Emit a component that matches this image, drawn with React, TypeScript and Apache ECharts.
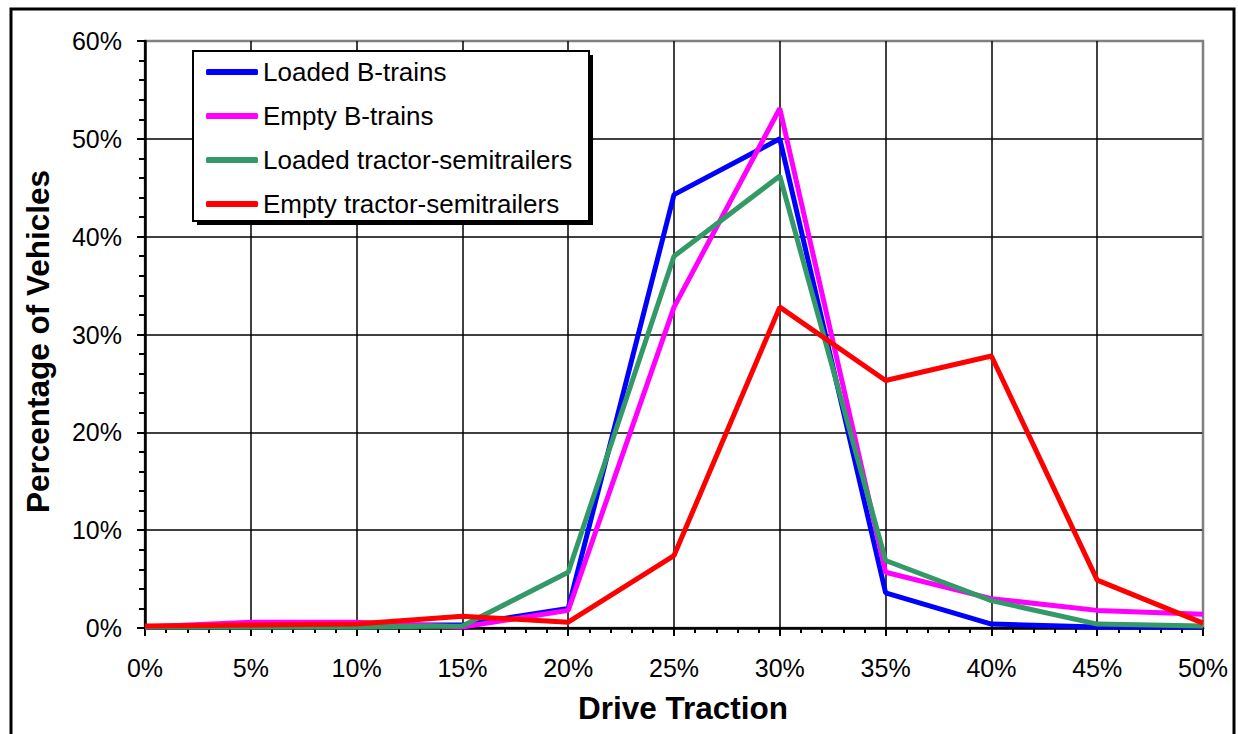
import React, { useEffect, useRef } from "react";
import * as echarts from "echarts";

const driveTraction = [0, 5, 10, 15, 20, 25, 30, 35, 40, 45, 50];
const seriesNames = [
  "Loaded B-trains",
  "Empty B-trains",
  "Loaded tractor-semitrailers",
  "Empty tractor-semitrailers",
];
const loadedBTrains = [0.1, 0.3, 0.3, 0.3, 2.0, 44.3, 50.0, 3.6, 0.4, 0.1, 0.1];
const emptyBTrains = [0.1, 0.6, 0.6, 0.1, 1.8, 32.8, 53.1, 5.7, 3.0, 1.8, 1.4];
const loadedTractor = [0.1, 0.1, 0.1, 0.2, 5.7, 38.0, 46.2, 6.9, 2.8, 0.4, 0.2];
const emptyTractor = [0.2, 0.3, 0.4, 1.2, 0.6, 7.4, 32.8, 25.3, 27.8, 4.9, 0.5];
const seriesColors = ["#0000FF", "#FF00FF", "#339966", "#FF0000"];

const FONT = "'Liberation Sans', Arial, sans-serif";

export default function App() {
  const ref = useRef<HTMLDivElement>(null);

  useEffect(() => {
    document.body.style.margin = "0";
    document.body.style.overflow = "hidden";
    const chart = echarts.init(ref.current!, null, { renderer: "svg" });
    const allData = [loadedBTrains, emptyBTrains, loadedTractor, emptyTractor];
    const gridLineColorsX = driveTraction.map((_, i) =>
      i === driveTraction.length - 1 ? "#808080" : "#000000"
    );
    const gridLineColorsY = [0, 10, 20, 30, 40, 50, 60].map((v) =>
      v === 60 ? "#808080" : "#000000"
    );
    chart.setOption({
      animation: false,
      backgroundColor: "#ffffff",
      textStyle: { fontFamily: FONT, color: "#000" },
      grid: {
        left: 145,
        right: 35,
        top: 41,
        bottom: 106,
        containLabel: false,
        show: true,
        borderColor: "#808080",
        borderWidth: 2.5,
      },
      legend: {
        orient: "vertical",
        left: 206,
        top: 59,
        padding: 0,
        itemWidth: 52,
        itemHeight: 6,
        itemGap: 18,
        icon: "roundRect",
        z: 12,
        data: seriesNames,
        textStyle: { fontFamily: FONT, fontSize: 26, color: "#000" },
      },
      xAxis: {
        type: "value",
        min: 0,
        max: 50,
        interval: 5,
        name: "Drive Traction",
        nameLocation: "middle",
        nameGap: 64,
        nameTextStyle: {
          fontFamily: FONT,
          fontSize: 31.5,
          fontWeight: "bold",
          color: "#000",
          padding: [0, 0, 0, 18],
        },
        axisLine: { show: true, onZero: false, lineStyle: { color: "#000", width: 2.5 } },
        axisTick: { show: true, inside: false, length: 8, lineStyle: { color: "#000", width: 2 } },
        minorTick: { show: true, splitNumber: 5, length: 5, lineStyle: { color: "#000", width: 2 } },
        axisLabel: {
          fontFamily: FONT,
          fontSize: 25,
          color: "#000",
          margin: 27,
          formatter: "{value}%",
        },
        splitLine: { show: true, lineStyle: { color: gridLineColorsX, width: 1.5 } },
      },
      yAxis: {
        type: "value",
        min: 0,
        max: 60,
        interval: 10,
        name: "Percentage of Vehicles",
        nameLocation: "middle",
        nameRotate: 90,
        nameGap: 91,
        nameTextStyle: {
          fontFamily: FONT,
          fontSize: 31.5,
          fontWeight: "bold",
          color: "#000",
          padding: [0, 14, 0, 0],
        },
        axisLine: { show: true, lineStyle: { color: "#000", width: 2.5 } },
        axisTick: { show: true, inside: false, length: 8, lineStyle: { color: "#000", width: 2 } },
        minorTick: { show: true, splitNumber: 5, length: 6, lineStyle: { color: "#000", width: 2 } },
        axisLabel: {
          fontFamily: FONT,
          fontSize: 25,
          color: "#000",
          margin: 23,
          formatter: "{value}%",
        },
        splitLine: { show: true, lineStyle: { color: gridLineColorsY, width: 1.5 } },
      },
      graphic: [
        {
          type: "rect",
          silent: true,
          z: -10,
          shape: { x: 11, y: 9, width: 1223, height: 780 },
          style: { fill: "none", stroke: "#000", lineWidth: 3 },
        },
        {
          type: "rect",
          silent: true,
          z: 10,
          shape: { x: 197, y: 55, width: 396, height: 170 },
          style: { fill: "#000" },
        },
        {
          type: "rect",
          silent: true,
          z: 11,
          shape: { x: 193, y: 51, width: 396, height: 170 },
          style: { fill: "#fff", stroke: "#000", lineWidth: 2 },
        },
      ],
      series: seriesNames.map((name, i) => ({
        name,
        type: "line",
        data: driveTraction.map((x, j) => [x, allData[i][j]]),
        showSymbol: false,
        symbol: "none",
        z: 2 + i,
        color: seriesColors[i],
        lineStyle: { color: seriesColors[i], width: 5 },
      })),
    });
    return () => chart.dispose();
  }, []);

  return (
    <div
      ref={ref}
      style={{ position: "fixed", left: 0, top: 0, width: 1238, height: 734 }}
    />
  );
}
